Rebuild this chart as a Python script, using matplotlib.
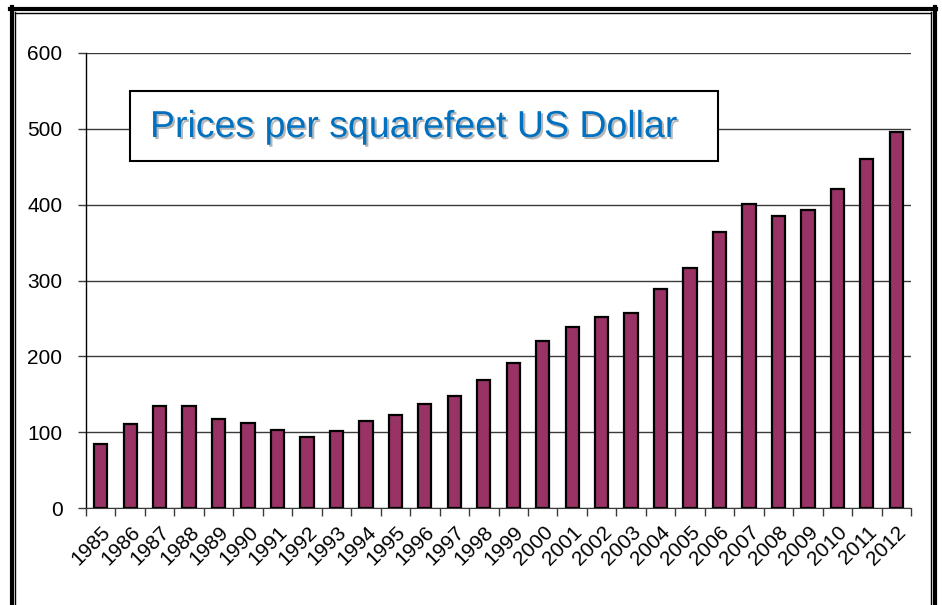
import matplotlib
matplotlib.use("Agg")
import matplotlib.pyplot as plt
import matplotlib.patheffects as pe
import matplotlib.transforms as mtransforms
from matplotlib.patches import Rectangle
from matplotlib.lines import Line2D

years = [str(y) for y in range(1985, 2013)]
prices = [84, 111, 135, 135, 117, 112, 103, 94, 101, 115, 123, 137, 148, 169,
          191, 220, 239, 252, 257, 289, 317, 364, 401, 385, 393, 421, 460, 496]
title = "Prices per squarefeet US Dollar"
yticks = [0, 100, 200, 300, 400, 500, 600]

plt.rcParams['font.family'] = ['Liberation Sans', 'DejaVu Sans']

W, H = 942, 605
fig = plt.figure(figsize=(W / 100, H / 100), dpi=100)
ax = fig.add_axes([86 / W, 1 - 508 / H, (911 - 86) / W, (508 - 53) / H])

x = list(range(len(years)))
ax.bar(x, prices, width=0.45, color='#993366', edgecolor='black', linewidth=1.6, zorder=3)

ax.set_xlim(-0.5, len(years) - 0.5)
ax.set_ylim(0, 600)
ax.set_yticks(yticks)
ax.set_yticklabels([str(v) for v in yticks], fontsize=15)
ax.yaxis.grid(True, color='#3a3a3a', linewidth=1.0, zorder=0)
ax.tick_params(axis='y', length=6, width=1, color='#3a3a3a', pad=11)

ax.set_xticks(x)
ax.set_xticklabels(years, rotation=45, ha='right', va='center', rotation_mode='anchor', fontsize=15)
ax.set_xticks([i + 0.5 for i in range(-1, len(years))], minor=True)
ax.tick_params(axis='x', which='major', length=0, pad=15)
ax.tick_params(axis='x', which='minor', length=6, width=1, color='#3a3a3a')
offset = mtransforms.ScaledTranslation(7 / 100, 0, fig.dpi_scale_trans)
for lbl in ax.get_xticklabels():
    lbl.set_transform(lbl.get_transform() + offset)

for s in ['top', 'right']:
    ax.spines[s].set_visible(False)
ax.spines['left'].set_color('black')
ax.spines['bottom'].set_color('#3a3a3a')
ax.spines['left'].set_linewidth(1.0)

# title box
box = Rectangle((130 / W, 1 - 161 / H), (718 - 130) / W, (161 - 91) / H,
                transform=fig.transFigure, facecolor='white', edgecolor='black',
                linewidth=1.5, zorder=5)
fig.patches.append(box)
fig.text(150 / W, 1 - 127 / H, title, fontsize=27, color='#0070C0', va='center', ha='left',
         zorder=6,
         path_effects=[pe.withSimplePatchShadow(offset=(1.5, -1.5), shadow_rgbFace='#888888', alpha=0.6)])

# outer frame (thick outer, thin inner)
def vline(xp, y0, y1, lw):
    fig.add_artist(Line2D([xp / W, xp / W], [1 - y0 / H, 1 - y1 / H], transform=fig.transFigure,
                          color='black', linewidth=lw))

def hline(yp, x0, x1, lw):
    fig.add_artist(Line2D([x0 / W, x1 / W], [1 - yp / H, 1 - yp / H], transform=fig.transFigure,
                          color='black', linewidth=lw))

hline(8.5, 10, 936, 3.0)
vline(11.5, 7, 610, 3.0)
vline(934.5, 7, 610, 3.0)
hline(12.5, 14.5, 930.5, 1.0)
vline(14.5, 12, 610, 1.0)
vline(930.5, 12, 610, 1.0)

fig.savefig("out.png", dpi=100)
